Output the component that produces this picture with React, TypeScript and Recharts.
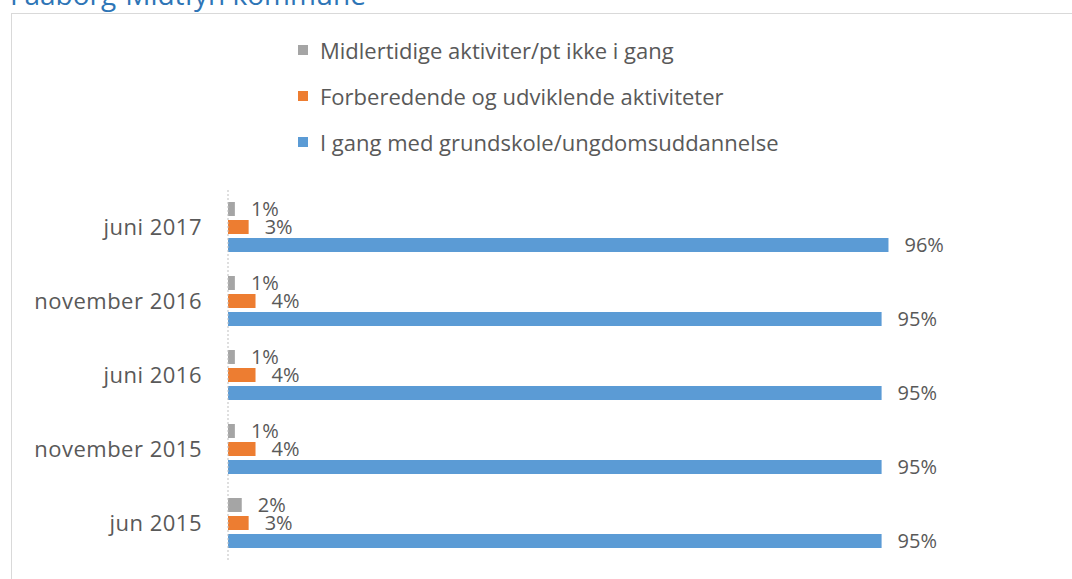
import React from 'react';
import { BarChart, Bar, XAxis, YAxis, LabelList } from 'recharts';

const categories = ['juni 2017', 'november 2016', 'juni 2016', 'november 2015', 'jun 2015'];
const midlertidige = [1, 1, 1, 1, 2];
const forberedende = [3, 4, 4, 4, 3];
const iGang = [96, 95, 95, 95, 95];

const seriesNames = [
  'Midlertidige aktiviter/pt ikke i gang',
  'Forberedende og udviklende aktiviteter',
  'I gang med grundskole/ungdomsuddannelse',
];
const colors = ['#a5a5a5', '#ed7d31', '#5b9bd5'];

const data = categories.map((name, i) => ({
  name,
  midlertidige: midlertidige[i],
  forberedende: forberedende[i],
  iGang: iGang[i],
}));

const font = '"Open Sans", sans-serif';
const textColor = '#595959';

// legend drawn by hand so it doesn't eat into the plot area
const LegendList = () => (
  <div style={{ position: 'absolute', left: 298, top: 27, fontFamily: font, fontSize: 22, color: textColor }}>
    {seriesNames.map((s, i) => (
      <div key={s} style={{ display: 'flex', alignItems: 'center', height: 46 }}>
        <span style={{ width: 10, height: 10, background: colors[i], marginRight: 12, display: 'inline-block' }} />
        <span>{s}</span>
      </div>
    ))}
  </div>
);

const App: React.FC = () => {
  const label = (v: any) => `${v}%`;
  const labelProps = { position: 'right' as const, offset: 16, formatter: label, fill: textColor, fontSize: 20, fontFamily: font };
  return (
    <div style={{ position: 'absolute', left: 0, top: 0, width: 1072, height: 579, overflow: 'hidden', background: '#fff' }}>
      <svg width={600} height={20} style={{ position: 'absolute', left: 0, top: 0 }}>
        <text x={10} y={5} fontFamily={font} fontSize={28} fill="#2e75b6">Faaborg-Midtfyn kommune</text>
      </svg>
      <div style={{ position: 'absolute', left: 11, top: 13, width: 1100, height: 600, border: '1px solid #d9d9d9' }} />
      <LegendList />
      <div style={{ position: 'absolute', left: 0, top: 0 }}>
        <BarChart
          width={1072}
          height={579}
          data={data}
          layout="vertical"
          margin={{ top: 190, right: 156, bottom: 19, left: 0 }}
          barSize={14}
          barGap={4}
        >
          <XAxis type="number" domain={[0, 100]} hide />
          <YAxis
            type="category"
            dataKey="name"
            width={228}
            tickLine={false}
            tickSize={6}
            tickMargin={20}
            axisLine={{ stroke: '#bfbfbf', strokeDasharray: '2 2' }}
            tick={{ fill: textColor, fontSize: 22, fontFamily: font, letterSpacing: 0.5 }}
          />
          <Bar dataKey="midlertidige" name={seriesNames[0]} fill={colors[0]} isAnimationActive={false}>
            <LabelList dataKey="midlertidige" {...labelProps} />
          </Bar>
          <Bar dataKey="forberedende" name={seriesNames[1]} fill={colors[1]} isAnimationActive={false}>
            <LabelList dataKey="forberedende" {...labelProps} />
          </Bar>
          <Bar dataKey="iGang" name={seriesNames[2]} fill={colors[2]} isAnimationActive={false}>
            <LabelList dataKey="iGang" {...labelProps} />
          </Bar>
        </BarChart>
      </div>
    </div>
  );
};

export default App;
